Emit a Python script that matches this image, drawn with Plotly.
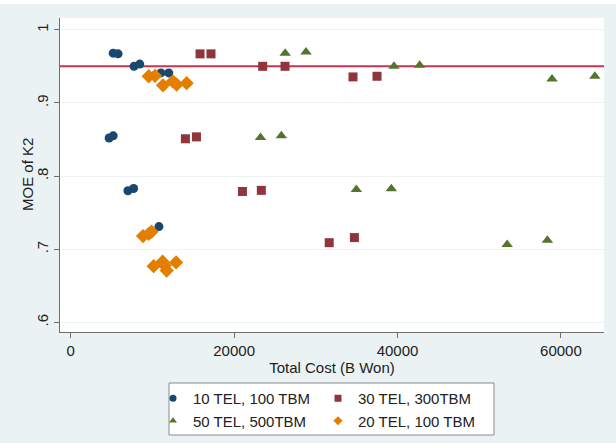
import plotly.graph_objects as go

# ---- data ----
blue_x = [5200, 5800, 7750, 8450, 11050, 12000, 4700, 5200, 7000, 7700, 10800]
blue_y = [0.968, 0.967, 0.950, 0.953, 0.941, 0.941, 0.852, 0.855, 0.780, 0.783, 0.731]

red_x = [15830, 17170, 23500, 26230, 34550, 37490, 14040, 15390, 21020, 23330, 31640, 34720]
red_y = [0.967, 0.967, 0.950, 0.950, 0.9355, 0.9364, 0.851, 0.8536, 0.779, 0.7805, 0.709, 0.716]

green_x = [26250, 28800, 39570, 42710, 58910, 64150, 23230, 25780, 34960, 39240, 53420, 58340]
green_y = [0.968, 0.9695, 0.950, 0.9514, 0.9327, 0.9364, 0.8527, 0.855, 0.7818, 0.7827, 0.7064, 0.7123]

orange_x = [9550, 10320, 11300, 12500, 12970, 14190, 8850, 9550, 9900, 10150, 11250, 11500, 11750, 12900]
orange_y = [0.9364, 0.937, 0.924, 0.9295, 0.925, 0.927, 0.718, 0.721, 0.724, 0.677, 0.683, 0.678, 0.671, 0.682]

names = ["10 TEL, 100 TBM", "30 TEL, 300TBM", "50 TEL, 500TBM", "20 TEL, 100 TBM"]
threshold = 0.95

y_tickvals = [0.6, 0.7, 0.8, 0.9, 1.0]
y_ticktext = [".6", ".7", ".8", ".9", "1"]
x_tickvals = [0, 20000, 40000, 60000]
x_ticktext = ["0", "20000", "40000", "60000"]
x_title = "Total Cost (B Won)"
y_title = "MOE of K2"

FONT = "Liberation Sans, Arial, Helvetica, sans-serif"
TXT = "#222222"

series = [
    (blue_x, blue_y, names[0], "circle", 9, "#1A476F", "legend"),
    (green_x, green_y, names[2], "triangle-up", 10, "#55752F", "legend"),
    (red_x, red_y, names[1], "square", 9, "#90353B", "legend2"),
    (orange_x, orange_y, names[3], "diamond", 11, "#E37E00", "legend2"),
]

fig = go.Figure()
for sx, sy, nm, sym, sz, col, lg in series:
    fig.add_trace(go.Scatter(x=sx, y=sy, mode="markers", name=nm,
                             marker=dict(symbol=sym, size=sz, color=col),
                             showlegend=False))
# legend entries with smaller symbols (as in the reference key)
for sx, sy, nm, sym, sz, col, lg in series:
    fig.add_trace(go.Scatter(x=[None], y=[None], mode="markers", name=nm,
                             marker=dict(symbol=sym, size=7, color=col),
                             showlegend=True, legend=lg))

fig.add_hline(y=threshold, line=dict(color="#C8334F", width=2), layer="below")

# plot area in px: left 60, right 604, top 18, bottom 332
W, H = 616, 443
L, R, T, B = 60, 12, 18, 111
pw, ph = W - L - R, H - T - B

def px_x(p):
    return (p - L) / pw

def px_y(p):
    return (H - B - p) / ph

# legend frame
fig.add_shape(type="rect", xref="paper", yref="paper",
              x0=px_x(169), x1=px_x(494), y0=px_y(435), y1=px_y(383),
              line=dict(color="#8A8A8A", width=1), fillcolor="white", layer="above")
# white strip at top of the picture
fig.add_shape(type="rect", xref="paper", yref="paper",
              x0=-0.2, x1=1.1, y0=px_y(4), y1=px_y(-5),
              line=dict(width=0), fillcolor="white", layer="above")

# y-axis title as rotated text left of the tick labels
fig.add_annotation(text=y_title, xref="paper", yref="paper",
                   x=px_x(27), y=0.5, xanchor="center", yanchor="middle",
                   textangle=-90, showarrow=False,
                   font=dict(family=FONT, size=15, color=TXT))

leg_common = dict(orientation="v", bgcolor="rgba(0,0,0,0)", borderwidth=0,
                  font=dict(family=FONT, size=15, color=TXT),
                  xref="container", yref="container",
                  xanchor="left", yanchor="top", tracegroupgap=0,
                  itemclick=False, itemdoubleclick=False)

fig.update_layout(
    width=W, height=H,
    margin=dict(l=L, r=R, t=T, b=B, autoexpand=False),
    paper_bgcolor="#EAF2F3",
    plot_bgcolor="white",
    font=dict(family=FONT, size=15, color=TXT),
    showlegend=True,
    legend=dict(x=153 / W, y=(H - 382) / H, **leg_common),
    legend2=dict(x=318 / W, y=(H - 382) / H, **leg_common),
    xaxis=dict(range=[-1310, 65270], tickvals=x_tickvals, ticktext=x_ticktext,
               showgrid=False, zeroline=False, showline=True, linecolor="#6E6E6E",
               linewidth=1, ticks="outside", ticklen=5, tickcolor="#6E6E6E",
               tickfont=dict(size=15),
               title=dict(text=x_title, font=dict(size=15), standoff=3)),
    yaxis=dict(range=[0.587, 1.016], tickvals=y_tickvals, ticktext=y_ticktext,
               tickangle=-90, showgrid=True, gridcolor="#EEF3F4", gridwidth=1,
               zeroline=False, showline=True, linecolor="#6E6E6E", linewidth=1,
               ticks="outside", ticklen=5, tickcolor="#6E6E6E",
               tickfont=dict(size=15)),
)

fig.write_html("out.html")
